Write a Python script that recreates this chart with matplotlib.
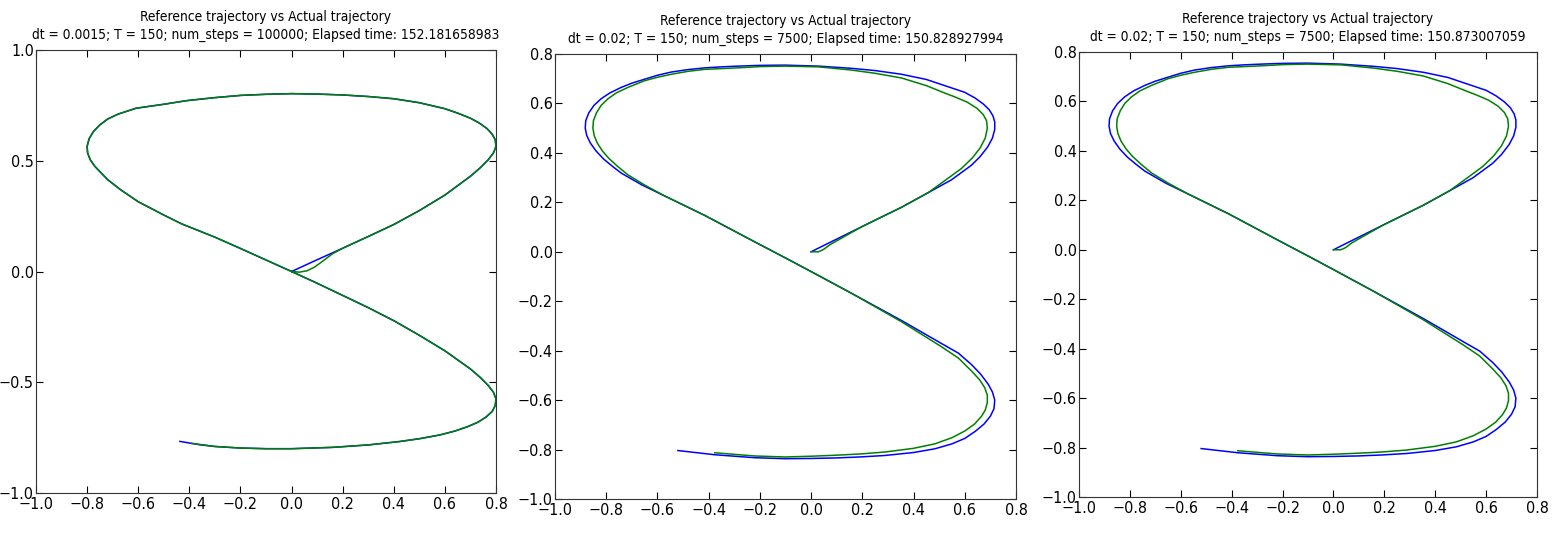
import matplotlib
matplotlib.use("Agg")
import matplotlib.pyplot as plt

plt.rcParams["font.family"] = ["DejaVu Sans"]
plt.rcParams["font.stretch"] = "condensed"

# panel 1: dt = 0.0015, reference (blue) and actual (green) paths
ref1_x = [0.0, 0.1, 0.2, 0.3, 0.4, 0.5, 0.6, 0.7, 0.74, 0.77, 0.79, 0.8, 0.797, 0.785,
          0.765, 0.735, 0.7, 0.65, 0.6, 0.5, 0.4, 0.3, 0.2, 0.1, 0.0, -0.1, -0.2, -0.3,
          -0.413, -0.5, -0.609, -0.68, -0.72, -0.75, -0.775, -0.792, -0.8, -0.798,
          -0.788, -0.77, -0.745, -0.72, -0.67, -0.6, -0.5, -0.43, -0.3, -0.2, -0.1,
          0.0, 0.1, 0.2, 0.3, 0.4, 0.5, 0.6, 0.7, 0.74, 0.77, 0.79, 0.8, 0.797, 0.785,
          0.76, 0.73, 0.69, 0.64, 0.58, 0.5, 0.42, 0.3, 0.16, 0.0, -0.1, -0.2, -0.3,
          -0.36, -0.437]
ref1_y = [0.0, 0.053, 0.105, 0.158, 0.212, 0.275, 0.345, 0.43, 0.47, 0.505, 0.535,
          0.565, 0.595, 0.62, 0.645, 0.67, 0.692, 0.715, 0.735, 0.762, 0.78, 0.79,
          0.797, 0.801, 0.803, 0.8, 0.795, 0.785, 0.771, 0.755, 0.737, 0.71, 0.688,
          0.662, 0.632, 0.6, 0.565, 0.535, 0.505, 0.475, 0.445, 0.415, 0.37, 0.315,
          0.255, 0.215, 0.155, 0.104, 0.052, 0.0, -0.053, -0.108, -0.163, -0.222,
          -0.288, -0.358, -0.44, -0.48, -0.515, -0.545, -0.575, -0.605, -0.632,
          -0.658, -0.68, -0.7, -0.72, -0.738, -0.755, -0.768, -0.783, -0.794, -0.8,
          -0.8, -0.797, -0.79, -0.782, -0.767]

act1_x = [0.0, 0.03, 0.06, 0.09, 0.12, 0.16, 0.2, 0.3, 0.4, 0.5, 0.6, 0.7, 0.74, 0.77,
          0.79, 0.8, 0.797, 0.785, 0.765, 0.735, 0.7, 0.65, 0.6, 0.5, 0.4, 0.3, 0.2,
          0.1, 0.0, -0.1, -0.2, -0.3, -0.413, -0.5, -0.609, -0.68, -0.72, -0.75,
          -0.775, -0.792, -0.8, -0.798, -0.788, -0.77, -0.745, -0.72, -0.67, -0.6,
          -0.5, -0.43, -0.3, -0.2, -0.1, 0.0, 0.1, 0.2, 0.3, 0.4, 0.5, 0.6, 0.7, 0.74,
          0.77, 0.79, 0.8, 0.797, 0.785, 0.76, 0.73, 0.69, 0.64, 0.58, 0.5, 0.42, 0.3,
          0.16, 0.0, -0.1, -0.2, -0.3, -0.39]
act1_y = [0.0, -0.003, 0.003, 0.02, 0.045, 0.08, 0.105, 0.158, 0.212, 0.275, 0.345,
          0.43, 0.47, 0.505, 0.535, 0.565, 0.595, 0.62, 0.645, 0.67, 0.692, 0.715,
          0.735, 0.762, 0.78, 0.79, 0.797, 0.801, 0.803, 0.8, 0.795, 0.785, 0.771,
          0.755, 0.737, 0.71, 0.688, 0.662, 0.632, 0.6, 0.565, 0.535, 0.505, 0.475,
          0.445, 0.415, 0.37, 0.315, 0.255, 0.215, 0.155, 0.104, 0.052, 0.0, -0.053,
          -0.108, -0.163, -0.222, -0.288, -0.358, -0.44, -0.48, -0.515, -0.545,
          -0.575, -0.605, -0.632, -0.658, -0.68, -0.7, -0.72, -0.738, -0.755, -0.768,
          -0.783, -0.794, -0.8, -0.8, -0.797, -0.79, -0.776]

# panels 2 and 3: dt = 0.02 (both runs look the same at this size)
ref2_x = [0.0, 0.068, 0.197, 0.353, 0.457, 0.548, 0.626, 0.66, 0.69, 0.708, 0.717,
          0.717, 0.71, 0.695, 0.672, 0.64, 0.6, 0.522, 0.45, 0.353, 0.25, 0.158, 0.029,
          -0.102, -0.2, -0.285, -0.35, -0.415, -0.48, -0.546, -0.6, -0.65, -0.7,
          -0.741, -0.785, -0.82, -0.848, -0.868, -0.88, -0.882, -0.876, -0.862, -0.84,
          -0.81, -0.775, -0.741, -0.66, -0.572, -0.415, -0.22, -0.1, 0.0, 0.158,
          0.353, 0.509, 0.575, 0.626, 0.662, 0.691, 0.708, 0.717, 0.714, 0.7, 0.675,
          0.64, 0.6, 0.55, 0.483, 0.4, 0.288, 0.19, 0.094, 0.0, -0.102, -0.22, -0.376,
          -0.52]
ref2_y = [0.0, 0.035, 0.101, 0.18, 0.239, 0.291, 0.35, 0.385, 0.425, 0.46, 0.495,
          0.525, 0.55, 0.575, 0.598, 0.622, 0.645, 0.672, 0.697, 0.718, 0.733, 0.742,
          0.751, 0.755, 0.754, 0.751, 0.748, 0.744, 0.737, 0.727, 0.714, 0.698,
          0.682, 0.665, 0.643, 0.619, 0.592, 0.562, 0.53, 0.5, 0.47, 0.44, 0.408,
          0.375, 0.345, 0.318, 0.27, 0.226, 0.147, 0.04, -0.025, -0.08, -0.168,
          -0.278, -0.371, -0.41, -0.456, -0.495, -0.535, -0.567, -0.6, -0.635,
          -0.665, -0.697, -0.727, -0.755, -0.777, -0.797, -0.812, -0.824, -0.83,
          -0.834, -0.836, -0.837, -0.833, -0.821, -0.804]

act2_x = [0.0, 0.029, 0.048, 0.074, 0.197, 0.353, 0.457, 0.509, 0.587, 0.63, 0.66,
          0.68, 0.688, 0.685, 0.672, 0.648, 0.61, 0.56, 0.522, 0.45, 0.353, 0.25,
          0.158, 0.029, -0.102, -0.2, -0.285, -0.35, -0.415, -0.48, -0.546, -0.6,
          -0.65, -0.715, -0.76, -0.793, -0.82, -0.838, -0.85, -0.852, -0.847, -0.835,
          -0.815, -0.79, -0.755, -0.715, -0.65, -0.572, -0.415, -0.22, -0.1, 0.0,
          0.158, 0.353, 0.509, 0.575, 0.626, 0.658, 0.678, 0.688, 0.688, 0.68, 0.665,
          0.638, 0.6, 0.55, 0.483, 0.4, 0.288, 0.19, 0.094, 0.0, -0.102, -0.22, -0.376]
act2_y = [0.0, 0.0, 0.009, 0.029, 0.101, 0.18, 0.239, 0.278, 0.337, 0.38, 0.42, 0.46,
          0.5, 0.53, 0.555, 0.58, 0.605, 0.627, 0.642, 0.672, 0.703, 0.722, 0.735,
          0.748, 0.751, 0.749, 0.744, 0.741, 0.738, 0.73, 0.718, 0.706, 0.692, 0.665,
          0.643, 0.619, 0.592, 0.562, 0.53, 0.5, 0.47, 0.44, 0.408, 0.378, 0.345,
          0.311, 0.27, 0.226, 0.147, 0.04, -0.025, -0.08, -0.168, -0.283, -0.384,
          -0.43, -0.482, -0.518, -0.55, -0.58, -0.61, -0.64, -0.666, -0.697, -0.725,
          -0.752, -0.777, -0.795, -0.81, -0.818, -0.823, -0.827, -0.83, -0.826,
          -0.813]

x_ticks = [-1.0, -0.8, -0.6, -0.4, -0.2, 0.0, 0.2, 0.4, 0.6, 0.8]
y_ticks_1 = [-1.0, -0.5, 0.0, 0.5, 1.0]
y_ticks_2 = [-1.0, -0.8, -0.6, -0.4, -0.2, 0.0, 0.2, 0.4, 0.6, 0.8]

titles = [
    "Reference trajectory vs Actual trajectory\n"
    "dt = 0.0015; T = 150; num_steps = 100000; Elapsed time: 152.181658983",
    "Reference trajectory vs Actual trajectory\n"
    "dt = 0.02; T = 150; num_steps = 7500; Elapsed time: 150.828927994",
    "Reference trajectory vs Actual trajectory\n"
    "dt = 0.02; T = 150; num_steps = 7500; Elapsed time: 150.873007059",
]

panels = [
    (ref1_x, ref1_y, act1_x, act1_y, (-1.0, 1.0), y_ticks_1),
    (ref2_x, ref2_y, act2_x, act2_y, (-1.0, 0.8), y_ticks_2),
    (ref2_x, ref2_y, act2_x, act2_y, (-1.0, 0.8), y_ticks_2),
]

# axes boxes in figure fractions (left, bottom, width, height)
boxes = [
    (36 / 1567, 42 / 535, 460 / 1567, 443 / 535),
    (555 / 1567, 36 / 535, 461 / 1567, 445 / 535),
    (1079 / 1567, 38 / 535, 458 / 1567, 445 / 535),
]

fig = plt.figure(figsize=(15.67, 5.35), dpi=100)
fig.patch.set_facecolor("white")

for i, (rx, ry, gx, gy, ylim, yt) in enumerate(panels):
    ax = fig.add_axes(boxes[i])
    ax.plot(rx, ry, color="blue", lw=1.1)
    ax.plot(gx, gy, color="green", lw=1.1)
    ax.set_xlim(-1.0, 0.8)
    ax.set_ylim(*ylim)
    ax.set_xticks(x_ticks)
    ax.set_yticks(yt)
    ax.tick_params(direction="in", top=True, right=True, length=5, labelsize=11.5)
    ax.tick_params(axis="x", pad=3)
    ax.tick_params(axis="y", pad=1.5)
    for s in ax.spines.values():
        s.set_color("#333333")
    ax.set_title(titles[i], fontsize=9.9, linespacing=1.35, pad=8)

fig.savefig("out.png", dpi=100)
